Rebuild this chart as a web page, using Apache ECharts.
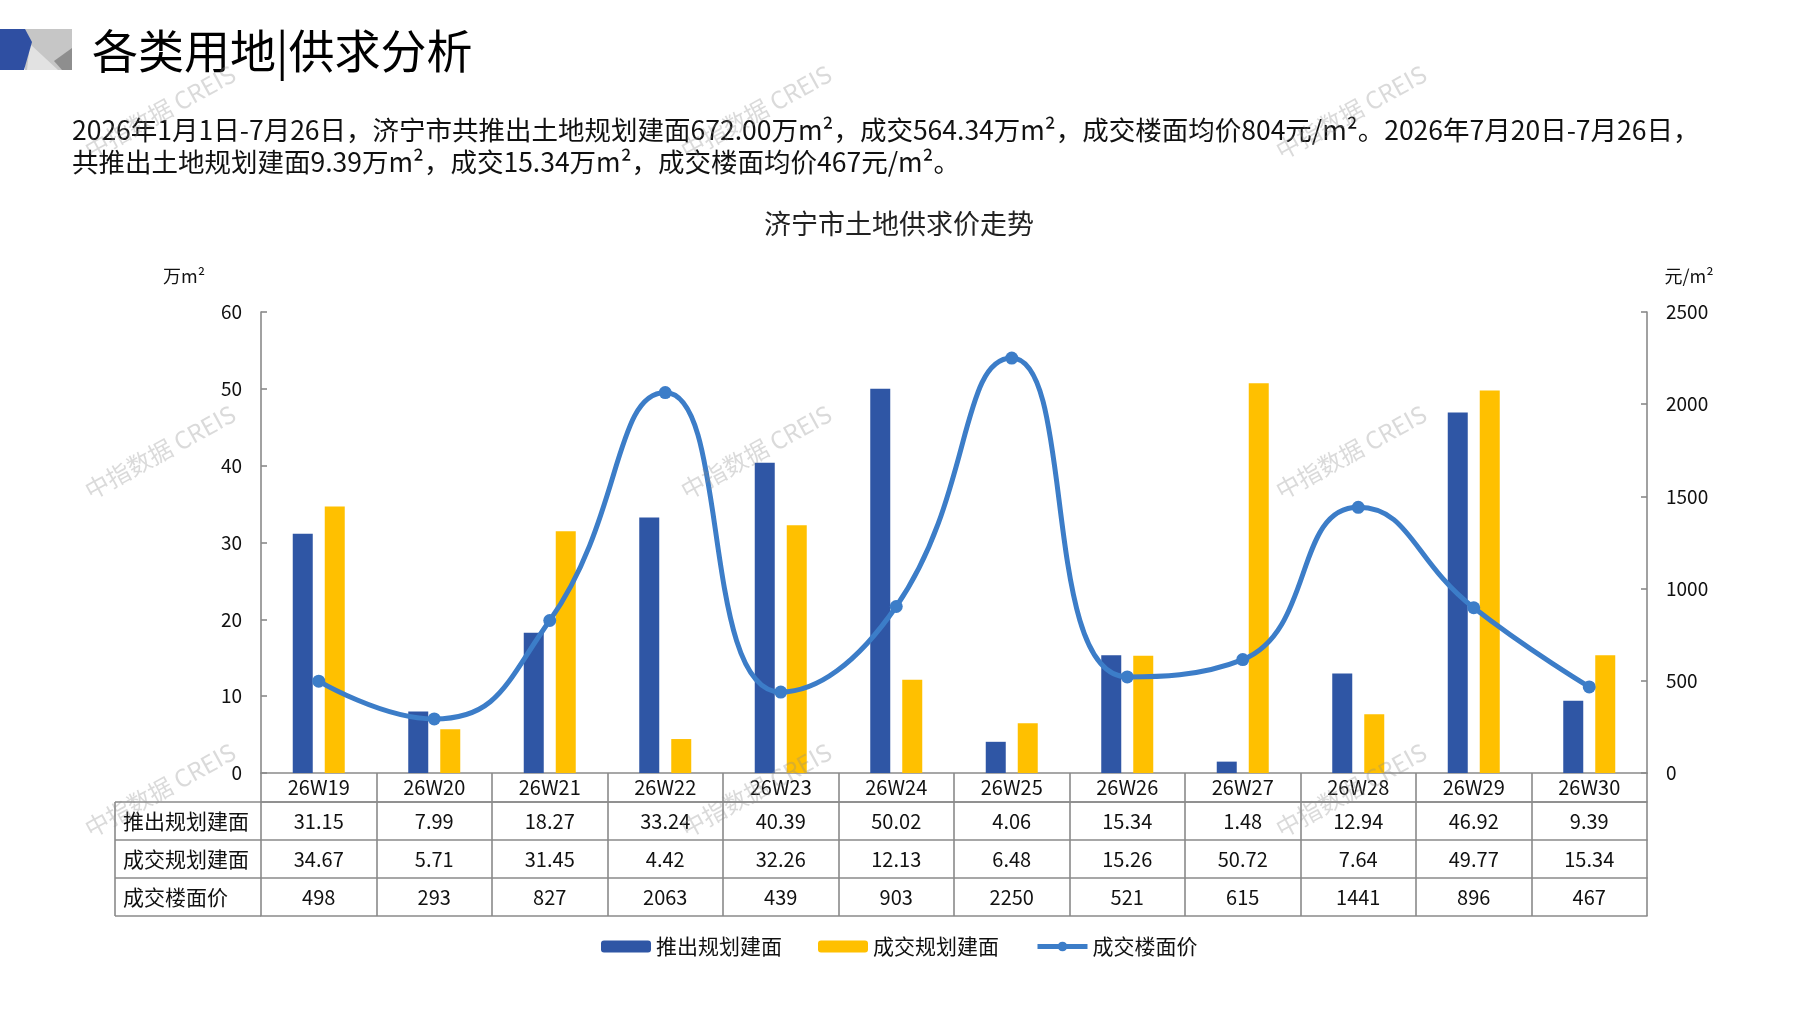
<!DOCTYPE html>
<html>
<head>
<meta charset="utf-8">
<script src="https://cdn.jsdelivr.net/npm/echarts@6.0.0/dist/echarts.min.js"></script>
<style>
html,body{margin:0;padding:0;background:#fff;}
#c{width:1797px;height:1010px;}
</style>
</head>
<body>
<div id="c"></div>
<script>
// ---------- data ----------
const categories = ['26W19','26W20','26W21','26W22','26W23','26W24','26W25','26W26','26W27','26W28','26W29','26W30'];
const supplyArea = [31.15, 7.99, 18.27, 33.24, 40.39, 50.02, 4.06, 15.34, 1.48, 12.94, 46.92, 9.39];
const dealArea   = [34.67, 5.71, 31.45, 4.42, 32.26, 12.13, 6.48, 15.26, 50.72, 7.64, 49.77, 15.34];
const dealPrice  = [498, 293, 827, 2063, 439, 903, 2250, 521, 615, 1441, 896, 467];
const seriesNames = ['推出规划建面', '成交规划建面', '成交楼面价'];
const leftAxisRange = {min: 0, max: 60, interval: 10};
const rightAxisRange = {min: 0, max: 2500, interval: 500};
const pageTitle = '各类用地|供求分析';
const descLines = [
  '2026年1月1日-7月26日，济宁市共推出土地规划建面672.00万m²，成交564.34万m²，成交楼面均价804元/m²。2026年7月20日-7月26日，',
  '共推出土地规划建面9.39万m²，成交15.34万m²，成交楼面均价467元/m²。'
];
const chartTitle = '济宁市土地供求价走势';
const leftUnit = '万m²';
const rightUnit = '元/m²';
const watermark = '中指数据 CREIS';

// ---------- layout ----------
const FF = '"Noto Sans CJK SC","Noto Sans",sans-serif';
const GL = 261, GR = 1647, GT = 312, GB = 773;
const HEAD_H = 29, ROW_H = 38;
const TABLE_LEFT = 115;
const LINE_C = '#8a8a8a';
const BLUE = '#2F56A5', YELLOW = '#FFC000', LINEC = '#3C7DC8';

const chart = echarts.init(document.getElementById('c'), null, {renderer: 'canvas'});

function tableAxis(data, offset, height, showLabel) {
  return {
    type: 'category', gridIndex: 0, position: 'bottom', offset: offset,
    data: data, boundaryGap: true,
    axisLine: {show: true, onZero: false, lineStyle: {color: LINE_C, width: 1.6}},
    axisTick: {show: height > 0, length: height, interval: 0, lineStyle: {color: LINE_C, width: 1.6}},
    axisLabel: {show: showLabel, interval: 0, margin: height / 2, verticalAlign: 'middle',
      fontSize: 20, color: '#111', fontFamily: FF},
    splitLine: {show: false}
  };
}

const row1Top = GB + HEAD_H, row2Top = row1Top + ROW_H, row3Top = row2Top + ROW_H, tableBottom = row3Top + ROW_H;

const graphics = [];
// logo
graphics.push({type: 'rect', shape: {x: 25, y: 29, width: 47, height: 41}, style: {fill: '#c6c6c6'}});
graphics.push({type: 'polygon', shape: {points: [[30, 44], [58, 70], [27, 70]]}, style: {fill: '#e2e2e2'}});
graphics.push({type: 'polygon', shape: {points: [[72, 48], [54, 61], [62, 70], [72, 70]]}, style: {fill: '#8e8e8e'}});
graphics.push({type: 'polygon', shape: {points: [[0, 29], [25, 29], [32, 42], [24, 70], [0, 70]]}, style: {fill: '#2F4FA2'}});
// page title
graphics.push({type: 'text', x: 92, y: 51, style: {text: pageTitle, font: '46px ' + FF, fill: '#000', verticalAlign: 'middle'}});
// row-1 separator under header
graphics.push({type: 'line', shape: {x1: GL, y1: row1Top, x2: GR, y2: row1Top}, style: {stroke: LINE_C, lineWidth: 1.6}});
// description
descLines.forEach(function (t, i) {
  graphics.push({type: 'text', x: 72, y: 130 + i * 32, style: {text: t, font: '26.5px ' + FF, fill: '#111', verticalAlign: 'middle'}});
});
// chart title
graphics.push({type: 'text', x: 899, y: 224, style: {text: chartTitle, font: '27px ' + FF, fill: '#222', align: 'center', verticalAlign: 'middle'}});
// units
graphics.push({type: 'text', x: 184, y: 276, style: {text: leftUnit, font: '18px ' + FF, fill: '#111', align: 'center', verticalAlign: 'middle'}});
graphics.push({type: 'text', x: 1689, y: 276, style: {text: rightUnit, font: '18px ' + FF, fill: '#111', align: 'center', verticalAlign: 'middle'}});
// table label column
[row1Top, row2Top, row3Top, tableBottom].forEach(function (y) {
  graphics.push({type: 'line', shape: {x1: TABLE_LEFT, y1: y, x2: GL, y2: y}, style: {stroke: LINE_C, lineWidth: 1.6}});
});
graphics.push({type: 'line', shape: {x1: TABLE_LEFT, y1: row1Top, x2: TABLE_LEFT, y2: tableBottom}, style: {stroke: LINE_C, lineWidth: 1.6}});
seriesNames.forEach(function (n, i) {
  graphics.push({type: 'text', x: TABLE_LEFT + 8, y: row1Top + ROW_H * i + ROW_H / 2,
    style: {text: n, font: '21px ' + FF, fill: '#111', verticalAlign: 'middle'}});
});
// watermarks
[160, 756, 1351].forEach(function (x) {
  [112, 452, 790].forEach(function (y) {
    graphics.push({type: 'text', x: x, y: y, rotation: 0.5, z: 100,
      style: {text: watermark, font: '24px ' + FF, fill: 'rgba(140,140,140,0.32)', align: 'center', verticalAlign: 'middle'}});
  });
});

const option = {
  backgroundColor: '#fff',
  animation: false,
  textStyle: {fontFamily: FF},
  grid: {left: GL, right: 1797 - GR, top: GT, bottom: 1010 - GB, containLabel: false},
  legend: {
    data: seriesNames, left: 596, top: 931, itemWidth: 50, itemHeight: 12, itemGap: 36,
    textStyle: {fontSize: 21, color: '#111', fontFamily: FF}
  },
  xAxis: [
    tableAxis(categories, 0, HEAD_H, true),
    tableAxis(supplyArea.map(function (v) { return v.toFixed(2); }), HEAD_H, ROW_H, true),
    tableAxis(dealArea.map(function (v) { return v.toFixed(2); }), HEAD_H + ROW_H, ROW_H, true),
    tableAxis(dealPrice.map(String), HEAD_H + ROW_H * 2, ROW_H, true),
    tableAxis(categories, HEAD_H + ROW_H * 3, 0, false)
  ],
  yAxis: [
    {type: 'value', min: leftAxisRange.min, max: leftAxisRange.max, interval: leftAxisRange.interval,
      axisLine: {show: true, lineStyle: {color: LINE_C, width: 1.6}},
      axisTick: {show: true, inside: true, length: 6, lineStyle: {color: LINE_C, width: 1.6}},
      axisLabel: {fontSize: 19, color: '#111', margin: 19, fontFamily: FF},
      splitLine: {show: false}},
    {type: 'value', min: rightAxisRange.min, max: rightAxisRange.max, interval: rightAxisRange.interval,
      position: 'right',
      axisLine: {show: true, lineStyle: {color: LINE_C, width: 1.6}},
      axisTick: {show: true, inside: true, length: 6, lineStyle: {color: LINE_C, width: 1.6}},
      axisLabel: {fontSize: 19, color: '#111', margin: 19, fontFamily: FF,
        formatter: function (v) { return String(v); }},
      splitLine: {show: false}}
  ],
  series: [
    {name: seriesNames[0], type: 'bar', xAxisIndex: 0, yAxisIndex: 0, data: supplyArea,
      barWidth: 20, barGap: '60%', itemStyle: {color: BLUE}},
    {name: seriesNames[1], type: 'bar', xAxisIndex: 0, yAxisIndex: 0, data: dealArea,
      barWidth: 20, barGap: '60%', itemStyle: {color: YELLOW}},
    {name: seriesNames[2], type: 'line', xAxisIndex: 0, yAxisIndex: 1, data: dealPrice,
      smooth: 0.5, symbol: 'circle', symbolSize: 13, z: 5,
      lineStyle: {color: LINEC, width: 5}, itemStyle: {color: LINEC}}
  ],
  graphic: graphics
};
option.legend.lineStyle = {width: 5};
option.legend.data = [
  {name: seriesNames[0]},
  {name: seriesNames[1]},
  {name: seriesNames[2], lineStyle: {width: 5, color: LINEC}, itemStyle: {color: LINEC}}
];
chart.setOption(option);
</script>
</body>
</html>
